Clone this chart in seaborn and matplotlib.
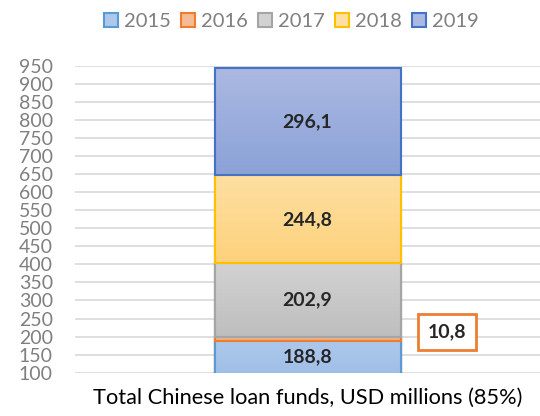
import numpy as np
import pandas as pd
import seaborn as sns
import matplotlib.pyplot as plt
from matplotlib.patches import Patch

sns.set_style("white")
plt.rcParams["font.family"] = ["Lato", "DejaVu Sans"]

category = "Total Chinese loan funds, USD millions (85%)"
years = ["2015", "2016", "2017", "2018", "2019"]
values = [188.8, 10.8, 202.9, 244.8, 296.1]
labels = ["188,8", "10,8", "202,9", "244,8", "296,1"]

fills_top = ["#adc8eb", "#f6bb93", "#d2d2d2", "#fedfa2", "#abb9e2"]
fills_bot = ["#92b5e3", "#f2a878", "#bebebe", "#fdd27c", "#8ba2d7"]
edges = ["#5b9bd5", "#ed7d31", "#a5a5a5", "#ffc000", "#4472c4"]

df = pd.DataFrame({"year": years, "value": values, "label": labels})
df["top"] = df["value"].cumsum()
df["bottom"] = df["top"] - df["value"]

ymin, ymax = 100, 950

fig = plt.figure(figsize=(5.4, 4.16), dpi=100)
ax = fig.add_axes([0.139, 0.104, 0.861, 0.738])

# overlapping cumulative bars, tallest first
for i in range(len(df) - 1, -1, -1):
    row = df.iloc[i]
    sns.barplot(x=[category], y=[row["top"]], color=fills_bot[i], edgecolor=edges[i],
                linewidth=1.5, width=0.4, saturation=1, ax=ax, zorder=2)

# gradient fill clipped to each visible segment
grad = np.linspace(0, 1, 100).reshape(-1, 1)
x0, x1 = -0.2, 0.2
for i, row in df.iterrows():
    lo = max(row["bottom"], ymin)
    cmap = sns.blend_palette([fills_bot[i], fills_top[i]], as_cmap=True)
    im = ax.imshow(grad, extent=[x0, x1, row["bottom"], row["top"]], origin="lower",
                   cmap=cmap, aspect="auto", zorder=2.5)
    rect = plt.Rectangle((x0, lo), x1 - x0, row["top"] - lo, transform=ax.transData)
    im.set_clip_path(rect)
    outline = plt.Rectangle((x0, row["bottom"]), x1 - x0, row["value"], fill=False,
                            edgecolor=edges[i], linewidth=1.5, zorder=3)
    ax.add_patch(outline)

ax.set_xlim(-0.5, 0.5)
ax.set_ylim(ymin, ymax)
ax.set_yticks(range(ymin, ymax + 1, 50))
ax.yaxis.grid(True, color="#d9d9d9", linewidth=1.2, zorder=0)
ax.set_axisbelow(True)
sns.despine(ax=ax, left=True, bottom=True)
ax.tick_params(axis="y", length=0, labelsize=14, labelcolor="#7f7f7f", pad=16)
ax.tick_params(axis="x", length=0, labelsize=15.7, labelcolor="black", pad=11)
ax.set_xlabel("")
ax.set_ylabel("")

for i, row in df.iterrows():
    if row["year"] == "2016":
        ax.text(0.3, 213, row["label"], ha="center", va="center", fontsize=14,
                fontweight="bold", zorder=4,
                bbox=dict(boxstyle="square,pad=0.5", facecolor="white",
                          edgecolor=edges[i], linewidth=2))
    else:
        ymid = (max(row["bottom"], ymin) + row["top"]) / 2
        ax.text(0, ymid, row["label"], ha="center", va="center", fontsize=14,
                fontweight="bold", zorder=4)

handles = [Patch(facecolor=fills_top[i], edgecolor=edges[i], linewidth=1.5) for i in range(len(years))]
fig.legend(handles, years, loc="center", bbox_to_anchor=(0.539, 0.948), ncol=5,
           frameon=False, fontsize=14.5, handlelength=0.7, handleheight=0.7,
           handletextpad=0.3, columnspacing=0.5, labelcolor="#7f7f7f")

fig.savefig("out.png", dpi=100)
